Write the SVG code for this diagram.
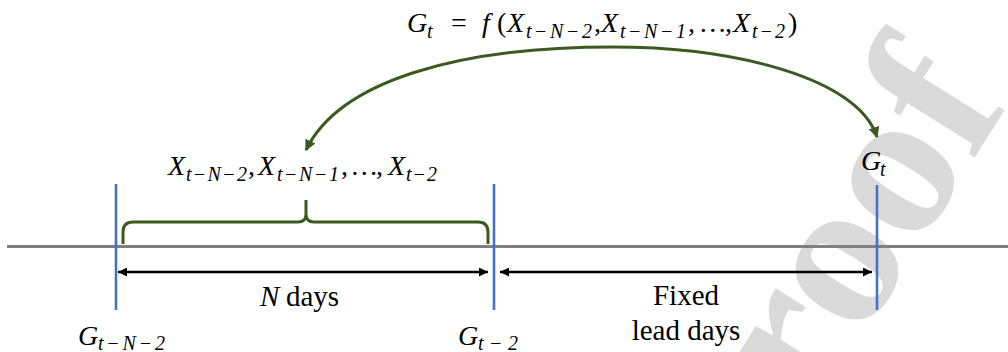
<svg xmlns="http://www.w3.org/2000/svg" width="1008" height="352" viewBox="0 0 1008 352">
<style>
text, tspan { font-family: "Liberation Serif", serif !important; }
</style>
<defs>
<marker id="ab" viewBox="0 0 10 10" markerUnits="userSpaceOnUse" markerWidth="11" markerHeight="9" refX="10" refY="5" orient="auto-start-reverse"><path d="M0,0 L10,5 L0,10 z" fill="#000"/></marker>
<marker id="ag" viewBox="0 0 10 10" markerUnits="userSpaceOnUse" markerWidth="11" markerHeight="11" refX="9" refY="5" orient="auto-start-reverse"><path d="M0,0 L10,5 L0,10 z" fill="#3a5a22"/></marker>
</defs>
<text x="0" y="0" font-family="Liberation Serif" font-weight="bold" font-size="210" fill="#dadada" transform="translate(745,525) rotate(-58)">Proof</text>
<g id="axis"><line stroke="#7f7f7f" stroke-width="3" x1="7" y1="246.5" x2="1008" y2="246.5"/></g>
<g id="brace"><path stroke="#3a5a22" stroke-width="3" fill="none" d="M123 244 V232 Q123 222 133 222 H298 Q306 222 306 214 V200 M306 214 Q306 222 314 222 H478 Q488 222 488 232 V244"/></g>
<g stroke="#4472c4" stroke-width="2.6">
<g id="tick-start"><line x1="116" y1="184" x2="116" y2="310"/></g>
<g id="tick-mid"><line x1="494" y1="184" x2="494" y2="310"/></g>
<g id="tick-end"><line x1="877" y1="185" x2="877" y2="310"/></g>
</g>
<g id="connectors" fill="none">
<g stroke="#000" stroke-width="2.4" marker-start="url(#ab)" marker-end="url(#ab)">
<line x1="118" y1="272" x2="488" y2="272"/>
<line x1="500" y1="272" x2="872" y2="272"/>
</g>
<path stroke="#3a5a22" stroke-width="3" marker-start="url(#ag)" marker-end="url(#ag)" d="M306 150 C340 80 460 47 613 47 C735 47 858 78 877 137"/>
</g>
<g fill="#000">
<g id="formula">
<text x="407" y="32" font-family="Liberation Serif" font-style="italic" font-size="28">G<tspan font-size="20" x="427" y="38">t</tspan><tspan font-style="normal" x="451" y="32">=</tspan><tspan x="482" y="32">f</tspan><tspan font-style="normal" x="497" y="32">(</tspan><tspan x="507" y="32">X</tspan><tspan font-size="20" x="526" y="38" textLength="66" lengthAdjust="spacing">t−N−2</tspan><tspan font-style="normal" x="594" y="32">,</tspan><tspan x="601" y="32">X</tspan><tspan font-size="20" x="620" y="38" textLength="66" lengthAdjust="spacing">t−N−1</tspan><tspan font-style="normal" x="688" y="32" textLength="44" lengthAdjust="spacing">, …,</tspan><tspan x="733" y="32">X</tspan><tspan font-size="20" x="752" y="38" textLength="33" lengthAdjust="spacing">t−2</tspan><tspan font-style="normal" x="788" y="32">)</tspan></text>
</g>
<g id="inputs">
<text x="168" y="175" font-family="Liberation Serif" font-style="italic" font-size="28">X<tspan font-size="20" x="186" y="181" textLength="61" lengthAdjust="spacing">t−N−2</tspan><tspan font-style="normal" x="248" y="175">,</tspan><tspan x="258" y="175">X</tspan><tspan font-size="20" x="277" y="181" textLength="62" lengthAdjust="spacing">t−N−1</tspan><tspan font-style="normal" x="341" y="175" textLength="42" lengthAdjust="spacing">, …,</tspan><tspan x="388" y="175">X</tspan><tspan font-size="20" x="406" y="181" textLength="31" lengthAdjust="spacing">t−2</tspan></text>
</g>
<g id="label-gt"><text x="861" y="170" font-family="Liberation Serif" font-style="italic" font-size="28">G<tspan font-size="20" x="880" y="176">t</tspan></text></g>
<g id="label-gtn2"><text x="78" y="345" font-family="Liberation Serif" font-style="italic" font-size="28">G<tspan font-size="20" x="98" y="350" textLength="67" lengthAdjust="spacing">t−N−2</tspan></text></g>
<g id="label-gt2"><text x="458" y="345" font-family="Liberation Serif" font-style="italic" font-size="28">G<tspan font-size="20" x="478" y="350" textLength="40" lengthAdjust="spacing">t−2</tspan></text></g>
<g id="label-ndays"><text x="260" y="306" font-family="Liberation Serif" font-size="29"><tspan font-style="italic">N</tspan><tspan x="286" y="306">days</tspan></text></g>
<g id="label-lead"><text x="686" y="305" font-family="Liberation Serif" font-size="29" text-anchor="middle">Fixed</text><text x="686" y="340" font-family="Liberation Serif" font-size="29" text-anchor="middle">lead days</text></g>
</g>
</svg>
